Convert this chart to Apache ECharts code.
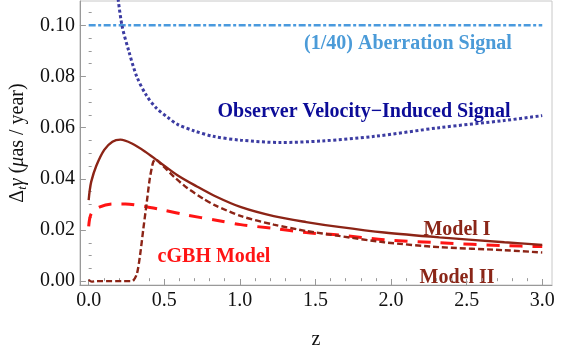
<!DOCTYPE html>
<html>
<head>
<meta charset="utf-8">
<script src="https://cdn.jsdelivr.net/npm/echarts@6/dist/echarts.min.js"></script>
<style>html,body{margin:0;padding:0;background:#fff}#c{width:584px;height:355px}</style>
</head>
<body>
<div id="c"></div>
<script>
// ---- data ----
const xMajorTicks = [0, 0.5, 1.0, 1.5, 2.0, 2.5, 3.0];
const xMinorTicks = [0.1,0.2,0.3,0.4,0.6,0.7,0.8,0.9,1.1,1.2,1.3,1.4,1.6,1.7,1.8,1.9,2.1,2.2,2.3,2.4,2.6,2.7,2.8,2.9];
const yMajorTicks = [0, 0.02, 0.04, 0.06, 0.08, 0.10];
const yMinorTicks = [0.005,0.01,0.015,0.025,0.03,0.035,0.045,0.05,0.055,0.065,0.07,0.075,0.085,0.09,0.095,0.105];

const zAberration = [0, 3.0];
const vAberration = [0.100, 0.100];

const zObserver = [0.19, 0.22, 0.265, 0.318, 0.383, 0.447, 0.523, 0.587, 0.695, 0.824, 1.006, 1.265, 1.546, 1.89, 2.32, 2.75, 3.0];
const vObserver = [0.1125, 0.100, 0.090, 0.080, 0.0725, 0.0677, 0.064, 0.0613, 0.0588, 0.0566, 0.0551, 0.0542, 0.0548, 0.0566, 0.060, 0.0628, 0.0647];

const zModel1 = [0, 0.006, 0.017, 0.05, 0.103, 0.157, 0.21, 0.286, 0.372, 0.458, 0.587, 0.716, 0.834, 1.008, 1.224, 1.439, 1.654, 1.955, 2.32, 2.75, 3.0];
const vModel1 = [0.0317, 0.0350, 0.0389, 0.045, 0.0513, 0.0545, 0.0553, 0.0538, 0.0507, 0.047, 0.0414, 0.037, 0.0333, 0.0289, 0.0254, 0.0231, 0.0212, 0.019, 0.0171, 0.0152, 0.0142];

const zModel2 = [0, 0.02, 0.05, 0.286, 0.318, 0.34, 0.361, 0.383, 0.404, 0.426, 0.441, 0.48, 0.566, 0.652, 0.759, 0.834, 1.008, 1.224, 1.439, 1.654, 1.955, 2.32, 2.75, 3.0];
const vModel2 = [0.0005, -0.0002, 0.0, 0.0, 0.0027, 0.0102, 0.0202, 0.0302, 0.040, 0.0464, 0.0476, 0.0457, 0.0407, 0.0364, 0.0322, 0.0297, 0.0254, 0.0221, 0.0196, 0.0177, 0.0152, 0.0133, 0.0121, 0.0112];

const zCGBH = [0, 0.017, 0.07, 0.157, 0.243, 0.372, 0.5, 0.652, 0.834, 1.006, 1.224, 1.439, 1.654, 1.955, 2.32, 2.75, 3.0];
const vCGBH = [0.0214, 0.0264, 0.0289, 0.0302, 0.0302, 0.0292, 0.0277, 0.0258, 0.0239, 0.0221, 0.0206, 0.019, 0.018, 0.0162, 0.015, 0.0139, 0.0135];

function pairs(xs, ys) { return xs.map((x, i) => [x, ys[i]]); }

const FONT = "'Liberation Serif', 'DejaVu Serif', serif";
const X_MIN = -0.058, X_MAX = 3.0645, Y_MIN = -0.0015, Y_MAX = 0.1095;

const chart = echarts.init(document.getElementById('c'), null, {renderer: 'canvas'});
const tickBase = {inside: true, lineStyle: {color: '#999', width: 1}};

chart.setOption({
  animation: false,
  backgroundColor: '#fff',
  grid: {left: 68, right: 32, top: 1, bottom: 57, show: true, borderColor: '#c8c8c8', borderWidth: 1},
  xAxis: [{
    type: 'value', min: X_MIN, max: X_MAX, position: 'bottom',
    name: 'z', nameLocation: 'middle', nameGap: 45,
    nameTextStyle: {fontFamily: FONT, fontSize: 20, color: '#111'},
    axisLine: {show: true, onZero: false, lineStyle: {color: '#999', width: 1}},
    axisTick: Object.assign({show: true, length: 6, customValues: xMajorTicks}, tickBase),
    axisLabel: {customValues: xMajorTicks, formatter: v => v.toFixed(1), fontFamily: FONT, fontSize: 20, color: '#111', margin: 6},
    splitLine: {show: false}
  }, {
    type: 'value', min: X_MIN, max: X_MAX, position: 'bottom',
    axisLine: {show: false},
    axisTick: Object.assign({show: true, length: 3, customValues: xMinorTicks}, tickBase),
    axisLabel: {show: false},
    splitLine: {show: false}
  }],
  yAxis: [{
    type: 'value', min: Y_MIN, max: Y_MAX, position: 'left',
    name: '{d|Δ}{s|t}{g|γ}{n| (}{g|μ}{n|as / year)}', nameLocation: 'middle', nameGap: 47,
    nameTextStyle: {
      fontFamily: FONT, fontSize: 20, color: '#111',
      rich: {
        d: {fontFamily: FONT, fontSize: 20, color: '#111'},
        s: {fontFamily: FONT, fontSize: 13, fontStyle: 'italic', color: '#111', verticalAlign: 'bottom', padding: [9, 0, 0, 0]},
        g: {fontFamily: FONT, fontSize: 20, fontStyle: 'italic', color: '#111'},
        n: {fontFamily: FONT, fontSize: 20, color: '#111'}
      }
    },
    axisLine: {show: true, onZero: false, lineStyle: {color: '#999', width: 1}},
    axisTick: Object.assign({show: true, length: 6, customValues: yMajorTicks}, tickBase),
    axisLabel: {customValues: yMajorTicks, formatter: v => v.toFixed(2), fontFamily: FONT, fontSize: 20, color: '#111', margin: 5},
    splitLine: {show: false}
  }, {
    type: 'value', min: Y_MIN, max: Y_MAX, position: 'left',
    axisLine: {show: false},
    axisTick: Object.assign({show: true, length: 3, customValues: yMinorTicks}, tickBase),
    axisLabel: {show: false},
    splitLine: {show: false}
  }],
  series: [
    {type: 'line', name: 'Aberration', data: pairs(zAberration, vAberration), showSymbol: false,
     lineStyle: {color: '#4a9ade', width: 2.5, type: [7, 2.5, 3, 2.5]}},
    {type: 'line', name: 'Observer', data: pairs(zObserver, vObserver), showSymbol: false, smooth: 0.3,
     lineStyle: {color: '#3c3ca2', width: 3, type: [3, 2.5]}},
    {type: 'line', name: 'cGBH', data: pairs(zCGBH, vCGBH), showSymbol: false, smooth: 0.3,
     lineStyle: {color: '#ff1414', width: 3, type: [13, 10]}},
    {type: 'line', name: 'Model II', data: pairs(zModel2, vModel2), showSymbol: false, smooth: 0.25,
     lineStyle: {color: '#8c2416', width: 2.4, type: [6, 3]}},
    {type: 'line', name: 'Model I', data: pairs(zModel1, vModel1), showSymbol: false, smooth: 0.3,
     lineStyle: {color: '#8c2416', width: 2.4}}
  ],
  graphic: [
    {type: 'text', x: 408, y: 44, style: {text: '(1/40) Aberration Signal', fill: '#4b9bd8', font: 'bold 20px ' + FONT, textAlign: 'center', textVerticalAlign: 'middle'}},
    {type: 'text', x: 364, y: 112, style: {text: 'Observer Velocity\u2212Induced Signal', fill: '#0c0c98', font: 'bold 20px ' + FONT, textAlign: 'center', textVerticalAlign: 'middle'}},
    {type: 'text', x: 457, y: 230, style: {text: 'Model I', fill: '#8a2618', font: 'bold 20px ' + FONT, textAlign: 'center', textVerticalAlign: 'middle'}},
    {type: 'text', x: 457, y: 278, style: {text: 'Model II', fill: '#8a2618', font: 'bold 20px ' + FONT, textAlign: 'center', textVerticalAlign: 'middle'}},
    {type: 'text', x: 214, y: 257, style: {text: 'cGBH Model', fill: '#ff1414', font: 'bold 20px ' + FONT, textAlign: 'center', textVerticalAlign: 'middle'}}
  ]
});
</script>
</body>
</html>
